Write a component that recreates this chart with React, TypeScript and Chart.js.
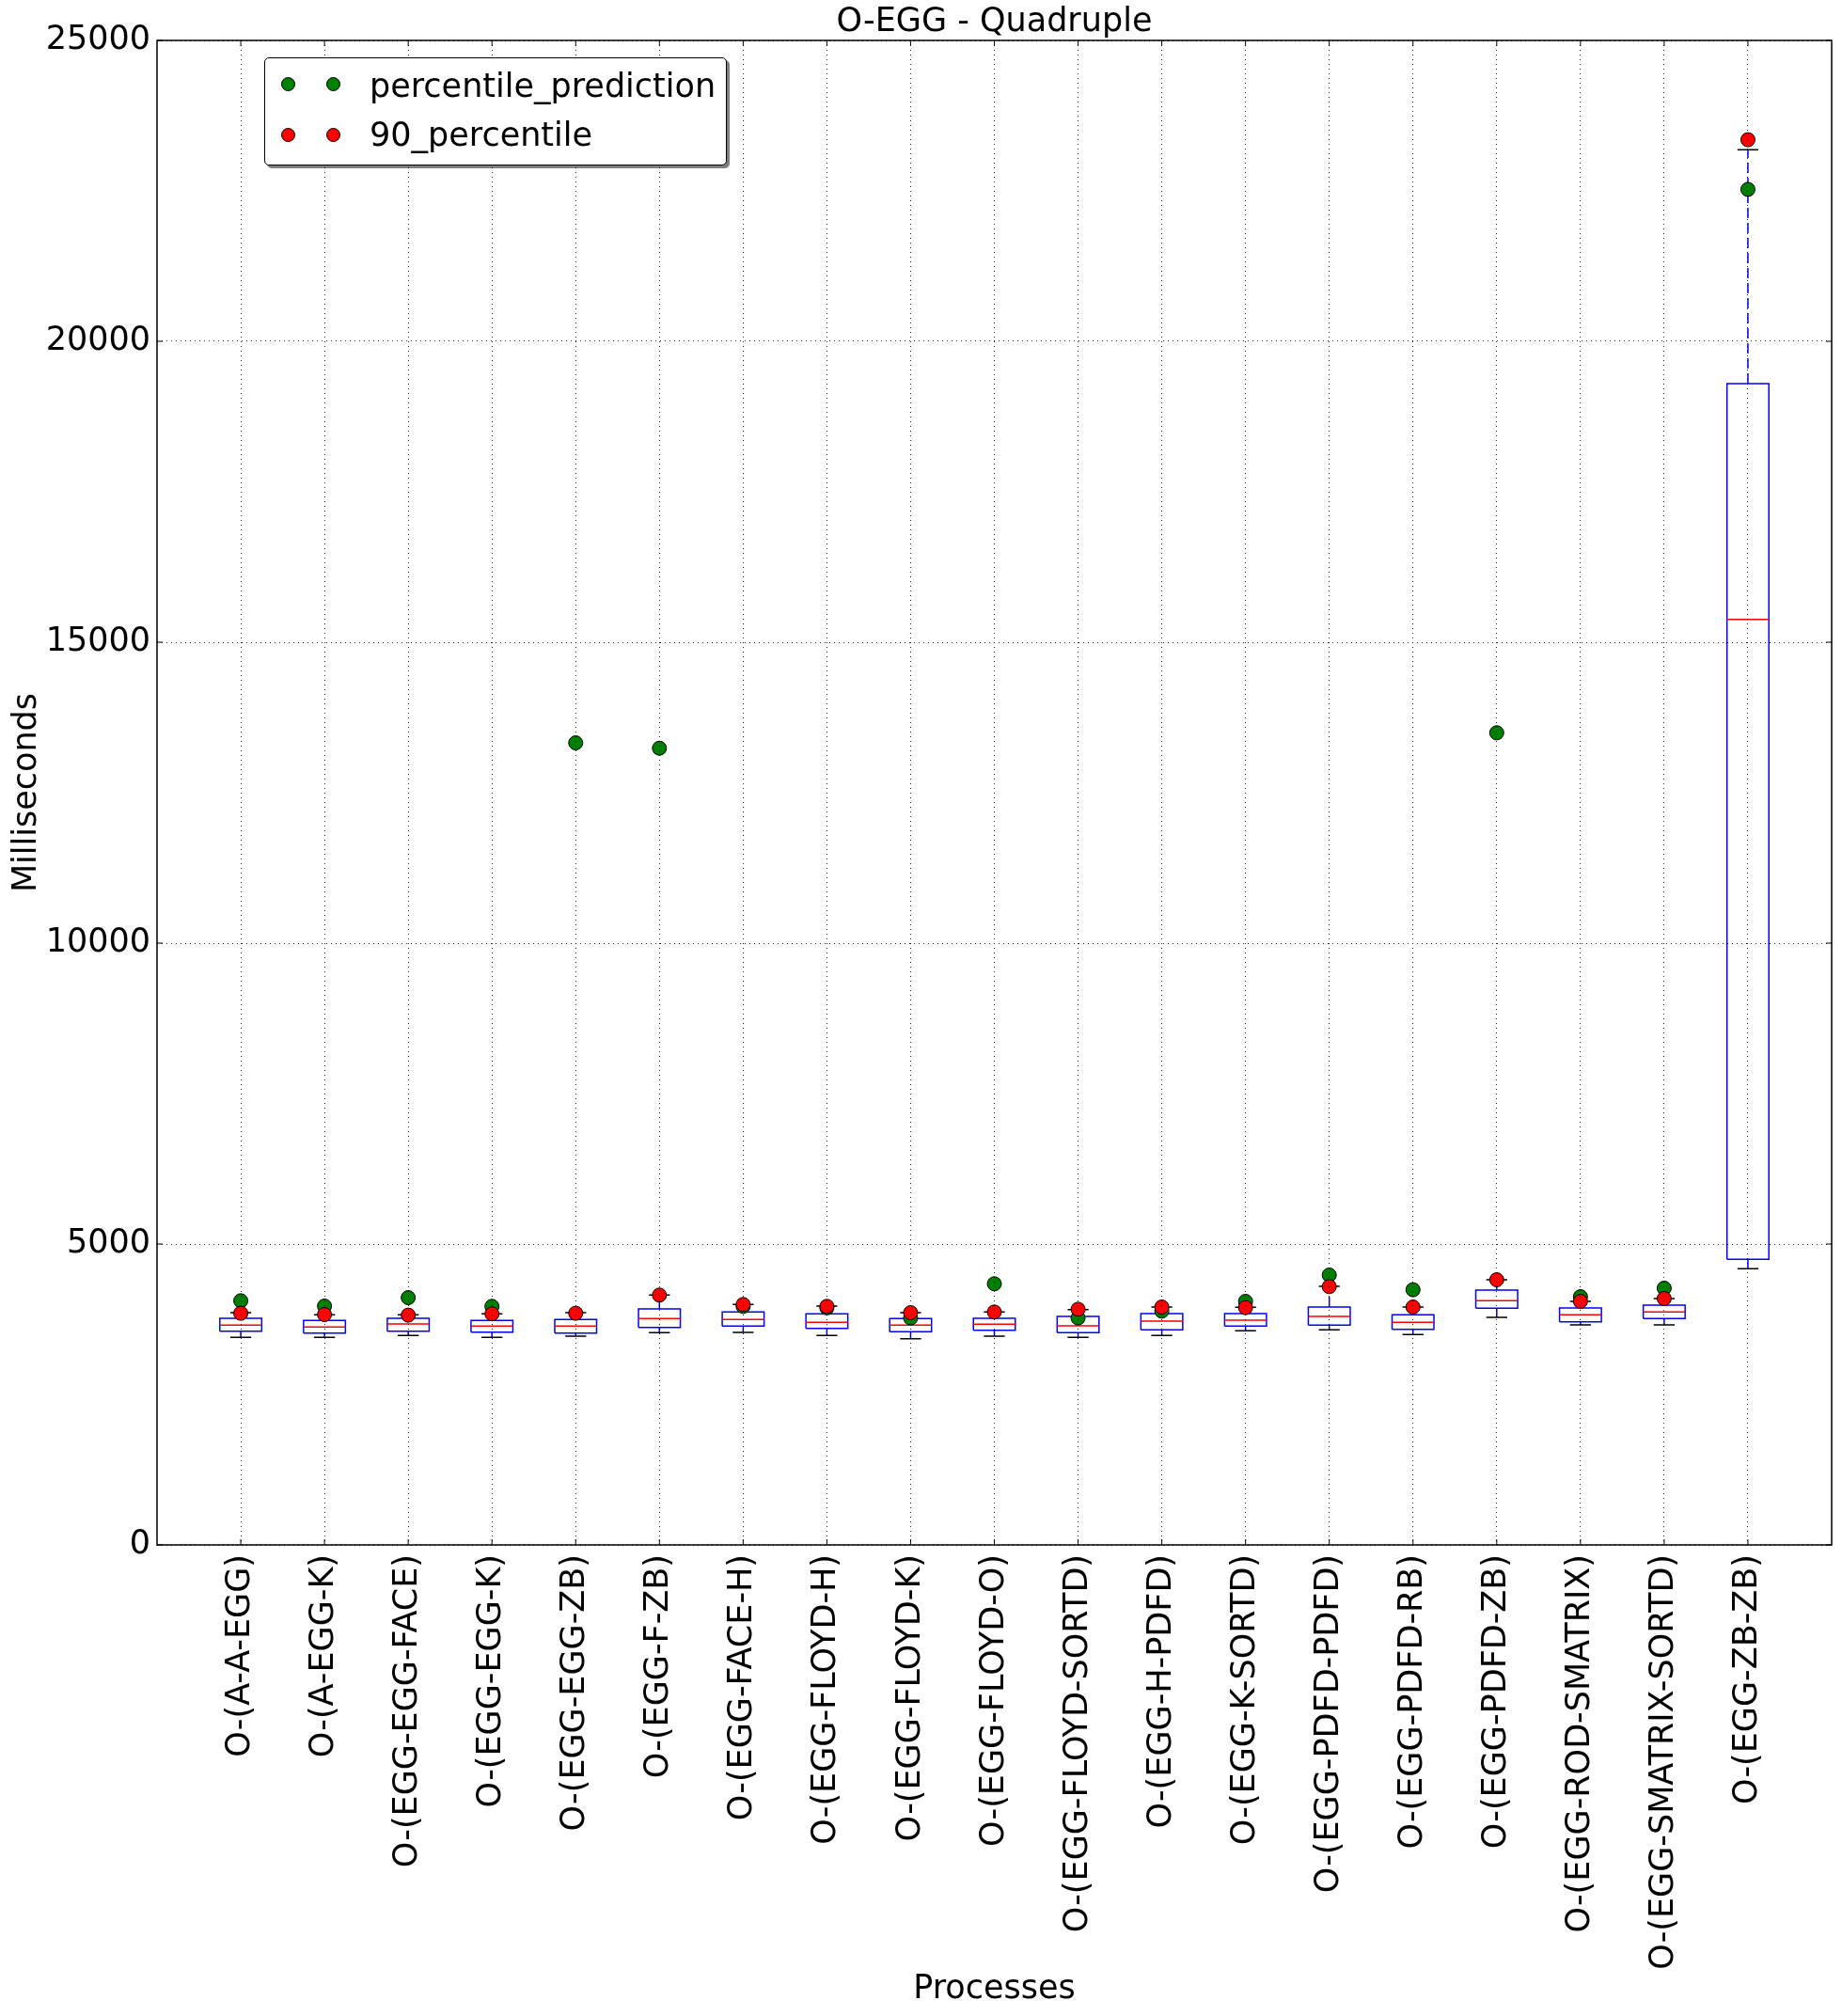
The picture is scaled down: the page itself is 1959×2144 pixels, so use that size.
import React, { useEffect, useRef } from 'react';
import { Chart, registerables } from 'chart.js';

Chart.register(...registerables);

// ---------------- data ----------------
const categories = [
  'O-(A-A-EGG)',
  'O-(A-EGG-K)',
  'O-(EGG-EGG-FACE)',
  'O-(EGG-EGG-K)',
  'O-(EGG-EGG-ZB)',
  'O-(EGG-F-ZB)',
  'O-(EGG-FACE-H)',
  'O-(EGG-FLOYD-H)',
  'O-(EGG-FLOYD-K)',
  'O-(EGG-FLOYD-O)',
  'O-(EGG-FLOYD-SORTD)',
  'O-(EGG-H-PDFD)',
  'O-(EGG-K-SORTD)',
  'O-(EGG-PDFD-PDFD)',
  'O-(EGG-PDFD-RB)',
  'O-(EGG-PDFD-ZB)',
  'O-(EGG-ROD-SMATRIX)',
  'O-(EGG-SMATRIX-SORTD)',
  'O-(EGG-ZB-ZB)',
];

const whiskerLow = [3448, 3448, 3479, 3448, 3469, 3526, 3531, 3479, 3427, 3469, 3448, 3479, 3557, 3573, 3495, 3781, 3656, 3656, 4589];
const quartile1 = [3552, 3521, 3552, 3536, 3521, 3614, 3635, 3599, 3542, 3568, 3526, 3573, 3635, 3651, 3583, 3932, 3708, 3760, 4745];
const medians = [3651, 3620, 3672, 3635, 3635, 3760, 3745, 3698, 3651, 3667, 3641, 3719, 3734, 3797, 3698, 4057, 3823, 3870, 15380];
const quartile3 = [3766, 3729, 3766, 3729, 3745, 3922, 3870, 3839, 3760, 3766, 3797, 3844, 3844, 3953, 3823, 4234, 3937, 3984, 19297];
const whiskerHigh = [3859, 3823, 3823, 3839, 3859, 4151, 3995, 3969, 3859, 3870, 3911, 3953, 3948, 4297, 3953, 4406, 4047, 4094, 23183];

const percentilePrediction = [4057, 3969, 4109, 3964, 13328, 13239, 3964, 3940, 3771, 4339, 3771, 3885, 4047, 4484, 4240, 13495, 4125, 4266, 22525];
const percentile90 = [3849, 3828, 3818, 3839, 3849, 4151, 3995, 3964, 3859, 3870, 3916, 3953, 3943, 4292, 3953, 4406, 4047, 4094, 23350];

const yTickValues = [0, 5000, 10000, 15000, 20000, 25000];

const TITLE = 'O-EGG - Quadruple';
const X_TITLE = 'Processes';
const Y_TITLE = 'Milliseconds';
const SERIES_NAMES = ['percentile_prediction', '90_percentile'];

// ---------------- styling constants ----------------
const W = 1959;
const H = 2144;
const FONT = "'DejaVu Sans', 'Liberation Sans', sans-serif";
const FS = 35;
const BOX_HALF = 0.25;
const CAP_HALF = 0.125;
const GREEN = '#008000';
const RED = '#ff0000';
const BLUE = '#0000ff';

type P = { x: number; y: number | null };

function buildBoxes(): P[] {
  const pts: P[] = [];
  categories.forEach((_, i) => {
    const x = i + 1;
    const a = x - BOX_HALF;
    const b = x + BOX_HALF;
    pts.push({ x: a, y: quartile1[i] }, { x: b, y: quartile1[i] }, { x: b, y: quartile3[i] }, { x: a, y: quartile3[i] }, { x: a, y: quartile1[i] }, { x, y: null });
  });
  return pts;
}

function buildWhiskers(): P[] {
  const pts: P[] = [];
  categories.forEach((_, i) => {
    const x = i + 1;
    pts.push({ x, y: quartile3[i] }, { x, y: whiskerHigh[i] }, { x, y: null });
    pts.push({ x, y: quartile1[i] }, { x, y: whiskerLow[i] }, { x, y: null });
  });
  return pts;
}

function buildCaps(): P[] {
  const pts: P[] = [];
  categories.forEach((_, i) => {
    const x = i + 1;
    pts.push({ x: x - CAP_HALF, y: whiskerHigh[i] }, { x: x + CAP_HALF, y: whiskerHigh[i] }, { x, y: null });
    pts.push({ x: x - CAP_HALF, y: whiskerLow[i] }, { x: x + CAP_HALF, y: whiskerLow[i] }, { x, y: null });
  });
  return pts;
}

function buildMedians(): P[] {
  const pts: P[] = [];
  categories.forEach((_, i) => {
    const x = i + 1;
    pts.push({ x: x - BOX_HALF, y: medians[i] }, { x: x + BOX_HALF, y: medians[i] }, { x, y: null });
  });
  return pts;
}

const lineBase = {
  type: 'line' as const,
  showLine: true,
  pointRadius: 0,
  pointHoverRadius: 0,
  pointHitRadius: 0,
  spanGaps: false,
  tension: 0,
  fill: false,
  borderWidth: 1.5,
  borderCapStyle: 'butt' as const,
  borderJoinStyle: 'miter' as const,
};

const framePlugin = {
  id: 'frameAndTicks',
  afterDraw(chart: any) {
    const { ctx, chartArea: a, scales } = chart;
    const xs = scales.x;
    const ys = scales.y;
    ctx.save();
    ctx.strokeStyle = '#000';
    ctx.lineWidth = 1;
    ctx.beginPath();
    xs.ticks.forEach((t: any) => {
      const px = xs.getPixelForValue(t.value);
      ctx.moveTo(px, a.bottom);
      ctx.lineTo(px, a.bottom - 6);
      ctx.moveTo(px, a.top);
      ctx.lineTo(px, a.top + 6);
    });
    ys.ticks.forEach((t: any) => {
      const py = ys.getPixelForValue(t.value);
      ctx.moveTo(a.left, py);
      ctx.lineTo(a.left + 6, py);
      ctx.moveTo(a.right, py);
      ctx.lineTo(a.right - 6, py);
    });
    ctx.stroke();
    ctx.lineWidth = 1.5;
    ctx.strokeRect(a.left, a.top, a.right - a.left, a.bottom - a.top);
    ctx.restore();
  },
};

export default function App() {
  const canvasRef = useRef<HTMLCanvasElement | null>(null);

  useEffect(() => {
    if (!canvasRef.current) return;
    Chart.defaults.font.family = FONT;
    Chart.defaults.color = '#000';

    const chart = new Chart(canvasRef.current, {
      type: 'line',
      data: {
        datasets: [
          {
            ...lineBase,
            label: SERIES_NAMES[1],
            data: categories.map((_, i) => ({ x: i + 1, y: percentile90[i] })),
            showLine: false,
            pointRadius: 7.5,
            pointBackgroundColor: RED,
            pointBorderColor: '#000',
            pointBorderWidth: 1,
            order: 0,
          },
          {
            ...lineBase,
            label: SERIES_NAMES[0],
            data: categories.map((_, i) => ({ x: i + 1, y: percentilePrediction[i] })),
            showLine: false,
            pointRadius: 7.5,
            pointBackgroundColor: GREEN,
            pointBorderColor: '#000',
            pointBorderWidth: 1,
            order: 1,
          },
          { ...lineBase, label: 'medians', data: buildMedians(), borderColor: RED, order: 2 },
          { ...lineBase, label: 'caps', data: buildCaps(), borderColor: '#000', order: 3 },
          { ...lineBase, label: 'whiskers', data: buildWhiskers(), borderColor: BLUE, borderDash: [11, 5], order: 4 },
          { ...lineBase, label: 'boxes', data: buildBoxes(), borderColor: BLUE, order: 5 },
        ] as any,
      },
      options: {
        responsive: false,
        animation: false,
        events: [],
        devicePixelRatio: 1,
        layout: { padding: { left: 0, right: W - 1948, top: 0, bottom: 0 } },
        plugins: {
          legend: { display: false },
          tooltip: { enabled: false },
          title: {
            display: true,
            text: TITLE,
            fullSize: false,
            color: '#000',
            font: { size: FS, weight: 'normal', lineHeight: 1, family: FONT },
            padding: { top: 6.5, bottom: 1.5 },
          },
        },
        scales: {
          x: {
            type: 'linear',
            min: 0,
            max: categories.length + 1,
            afterBuildTicks: (s: any) => {
              s.ticks = categories.map((_, i) => ({ value: i + 1 }));
            },
            afterFit: (s: any) => {
              s.height = H - 1643;
            },
            ticks: {
              autoSkip: false,
              minRotation: 90,
              maxRotation: 90,
              padding: 10,
              color: '#000',
              font: { size: FS, family: FONT },
              callback: (v: any) => categories[Number(v) - 1] ?? '',
            },
            grid: {
              z: 1,
              color: 'rgba(0,0,0,0.85)',
              lineWidth: 1,
              drawTicks: false,
            } as any,
            border: { display: false, dash: [1, 4] },
            title: {
              display: true,
              text: X_TITLE,
              color: '#000',
              font: { size: FS, family: FONT },
              padding: { top: 0, bottom: 7.3 },
            },
          },
          y: {
            type: 'linear',
            min: 0,
            max: 25000,
            afterBuildTicks: (s: any) => {
              s.ticks = yTickValues.map((v) => ({ value: v }));
            },
            afterFit: (s: any) => {
              s.width = 167;
            },
            ticks: {
              padding: 7,
              color: '#000',
              font: { size: FS, family: FONT },
              callback: (v: any) => String(v),
            },
            grid: {
              z: 1,
              color: 'rgba(0,0,0,0.85)',
              lineWidth: 1,
              drawTicks: false,
            } as any,
            border: { display: false, dash: [1, 4] },
            title: {
              display: true,
              text: Y_TITLE,
              color: '#000',
              font: { size: FS, family: FONT },
              padding: { top: 8.3, bottom: 0 },
            },
          },
        },
      } as any,
      plugins: [framePlugin],
    });

    return () => chart.destroy();
  }, []);

  const legendText: React.CSSProperties = {
    position: 'absolute',
    fontFamily: FONT,
    fontSize: FS,
    lineHeight: '40px',
    color: '#000',
    whiteSpace: 'nowrap',
  };
  const marker = (cx: number, cy: number, color: string): React.CSSProperties => ({
    position: 'absolute',
    left: cx - 7.5,
    top: cy - 7.5,
    width: 15,
    height: 15,
    boxSizing: 'border-box',
    borderRadius: '50%',
    background: color,
    border: '1px solid #000',
  });

  return (
    <div style={{ position: 'absolute', left: 0, top: 0, width: W, height: H, background: '#fff', overflow: 'hidden' }}>
      <canvas ref={canvasRef} width={W} height={H} style={{ display: 'block', width: W, height: H }} />
      <div
        style={{
          position: 'absolute',
          left: 281,
          top: 61,
          width: 492,
          height: 115,
          boxSizing: 'border-box',
          border: '1.5px solid #000',
          borderRadius: 5,
          background: '#fff',
          boxShadow: '3px 3px 0 rgba(0,0,0,0.5)',
        }}
      />
      <div style={marker(306, 89, GREEN)} />
      <div style={marker(354, 89, GREEN)} />
      <div style={{ ...legendText, left: 393, top: 71 }}>{SERIES_NAMES[0]}</div>
      <div style={marker(306, 143, RED)} />
      <div style={marker(354, 143, RED)} />
      <div style={{ ...legendText, left: 393, top: 123 }}>{SERIES_NAMES[1]}</div>
    </div>
  );
}
